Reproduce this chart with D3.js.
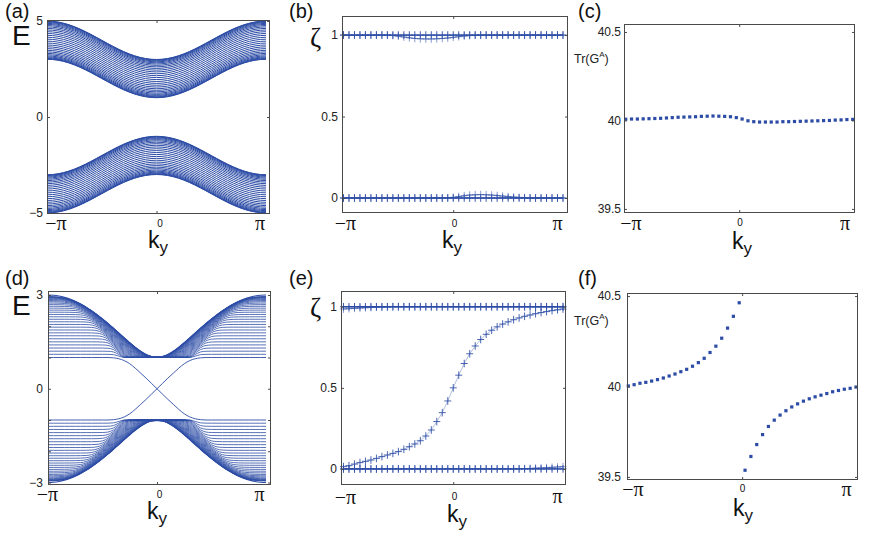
<!DOCTYPE html>
<html><head><meta charset="utf-8">
<script src="https://cdn.jsdelivr.net/npm/d3@7"></script>
<style>
html,body{margin:0;padding:0;background:#fff;}
svg{display:block;}
</style></head>
<body><svg id="fig" width="872" height="541"></svg>
<script>
const PI = Math.PI;
// sampling grids of k_y
const kyGrid41 = d3.range(41).map(j => -PI + j * PI / 20);
const kyGrid40 = d3.range(40).map(j => -PI + j * 2 * PI / 39);

// (a) inner edge of the upper band vs ky, and sub-band offsets above it
const edgeA = [3.000,2.988,2.951,2.891,2.809,2.707,2.588,2.454,2.309,2.156,2.000,1.844,1.691,1.546,1.412,1.293,1.191,1.109,1.049,1.012,1.000,1.012,1.049,1.109,1.191,1.293,1.412,1.546,1.691,1.844,2.000,2.156,2.309,2.454,2.588,2.707,2.809,2.891,2.951,2.988,3.000];
const offsetsA = [1.995,1.980,1.954,1.919,1.874,1.821,1.759,1.689,1.612,1.529,1.440,1.347,1.251,1.151,1.051,0.949,0.849,0.749,0.653,0.560,0.471,0.388,0.311,0.241,0.179,0.126,0.081,0.046,0.020,0.005];

// (d) outer band edge vs ky, sub-band levels at ky = ±π, how far below the
// outer edge each sub-band runs in the dense wedge, and the edge state
const outerD = [3.000,2.992,2.967,2.926,2.870,2.798,2.711,2.611,2.497,2.372,2.236,2.092,1.940,1.784,1.628,1.474,1.328,1.198,1.094,1.024,1.000,1.024,1.094,1.198,1.328,1.474,1.628,1.784,1.940,2.092,2.236,2.372,2.497,2.611,2.711,2.798,2.870,2.926,2.967,2.992,3.000];
const levelsD = [1.101,1.202,1.303,1.403,1.501,1.599,1.695,1.789,1.881,1.971,2.058,2.143,2.224,2.303,2.378,2.450,2.518,2.582,2.642,2.697,2.749,2.796,2.838,2.876,2.908,2.936,2.959,2.977,2.990,2.997];
const wedgeShiftD = [0.712,0.674,0.636,0.599,0.562,0.525,0.489,0.454,0.420,0.386,0.353,0.321,0.291,0.261,0.233,0.206,0.181,0.157,0.134,0.114,0.094,0.077,0.061,0.047,0.035,0.024,0.015,0.009,0.004,0.001];
const edgeStateD = [1,1,1,1,1,1,1,1,1,1,1,1,0.99,0.96,0.90,0.80,0.66,0.50,0.34,0.17,0,-0.17,-0.34,-0.50,-0.66,-0.80,-0.90,-0.96,-0.99,-1,-1,-1,-1,-1,-1,-1,-1,-1,-1,-1,-1];

// (b) zeta spectrum
const zetaB_one  = [1,1,1,1,1,1,1,1,1,1,1,1,1,1,1,1,1,1,1,1,1,1,1,1,1,1,1,1,1,1,1,1,1,1,1,1,1,1,1,1,1];
const zetaB_dip  = [1,1,1,1,1,1,1,1,1,0.997,0.993,0.988,0.983,0.979,0.977,0.976,0.976,0.977,0.979,0.982,0.986,0.990,0.994,0.997,0.999,1,1,1,1,1,1,1,1,1,1,1,1,1,1,1,1];
const zetaB_zero = [0,0,0,0,0,0,0,0,0,0,0,0,0,0,0,0,0,0,0,0,0,0,0,0,0,0,0,0,0,0,0,0,0,0,0,0,0,0,0,0,0];
const zetaB_bump = [0,0,0,0,0,0,0,0,0,0,0,0,0,0,0,0,0,0,0,0.001,0.004,0.009,0.014,0.018,0.020,0.021,0.020,0.018,0.015,0.012,0.009,0.006,0.004,0.002,0.001,0,0,0,0,0,0];

// (e) zeta spectrum with the spectral flow
const zetaE_one  = [1,1,1,1,1,1,1,1,1,1,1,1,1,1,1,1,1,1,1,1,1,1,1,1,1,1,1,1,1,1,1,1,1,1,1,1,1,1,1,1,1];
const zetaE_top  = [0.986,0.988,0.990,0.992,0.994,0.995,0.997,0.998,0.999,1,1,1,1,1,1,1,1,1,1,1,1,1,1,1,1,1,1,1,1,1,1,1,1,1,1,1,1,1,1,1,1];
const zetaE_flow = [0.014,0.020,0.030,0.039,0.047,0.055,0.065,0.076,0.086,0.096,0.107,0.121,0.137,0.154,0.174,0.203,0.240,0.292,0.347,0.419,0.500,0.578,0.650,0.710,0.758,0.798,0.830,0.855,0.876,0.893,0.907,0.920,0.931,0.941,0.949,0.957,0.964,0.970,0.976,0.981,0.986];
const zetaE_bot  = [0,0,0,0,0,0,0,0,0,0,0,0,0,0,0,0,0,0,0,0,0,0,0,0,0,0,0,0,0,0,0,0,0.001,0.002,0.003,0.005,0.006,0.008,0.010,0.012,0.014];
const zetaE_zero = [0,0,0,0,0,0,0,0,0,0,0,0,0,0,0,0,0,0,0,0,0,0,0,0,0,0,0,0,0,0,0,0,0,0,0,0,0,0,0,0,0];

// (c), (f) Tr(G^A)
const trC = [40.007,40.008,40.008,40.009,40.010,40.011,40.012,40.014,40.016,40.018,40.019,40.020,40.021,40.023,40.024,40.025,40.024,40.023,40.021,40.016,40.008,39.998,39.993,39.991,39.991,39.991,39.991,39.993,39.993,39.994,39.995,39.996,39.997,39.998,39.999,40.000,40.002,40.003,40.005,40.006];
const trF = [40.003,40.010,40.018,40.023,40.030,40.038,40.047,40.058,40.069,40.082,40.095,40.112,40.132,40.156,40.188,40.223,40.267,40.323,40.388,40.463,39.537,39.613,39.679,39.734,39.779,39.814,39.842,39.866,39.887,39.904,39.919,39.932,39.943,39.952,39.961,39.971,39.978,39.985,39.990,39.997];

// tick labels
const yTicksA = [-5,0,5],  yLabA = ["\u22125","0","5"];
const yTicksD = [-3,-2,-1,0,1,2,3], yLabD = ["\u22123","","","0","","","3"];
const yTicksZ = [0,0.5,1], yLabZ = ["0","0.5","1"];
const yTicksT = [39.5,40,40.5], yLabT = ["39.5","40","40.5"];
const xTickLabels = ["\u2212\u03c0","0","\u03c0"];

// ---------------- drawing ----------------
const svg = d3.select("#fig");
const BLUE = "#2c4ca6";
const AX = "#4a4a4a";
const SANS = "'Liberation Sans', Arial, sans-serif";
const SERIF = "'Liberation Serif', 'Times New Roman', serif";

const panels = {
  a:{box:[47,270,20,214], xlim:[-PI,3.256], ylim:[-5.05,5.05], yt:yTicksA, yl:yLabA, ypad:4,
     tag:[5,17.5], sym:"E", symPos:[12,45], xl:[56,160,260], xlY:[230,227,230], kPos:[148,248]},
  b:{box:[342,568,16,213], xlim:[-3.184,3.285], ylim:[-0.092,1.117], yt:yTicksZ, yl:yLabZ, ypad:4,
     tag:[289,17.5], sym:"zeta", symPos:[310,47], xl:[345.5,454.5,557.5], xlY:[230,227,230], kPos:[442,248]},
  c:{box:[624,855,24,213], xlim:[-3.189,3.205], ylim:[39.477,40.545], yt:yTicksT, yl:yLabT, ypad:3,
     tag:[578,17.5], sym:"tr", symPos:[574,63], xl:[631,740,845], xlY:[230,226,230], kPos:[732,249]},
  d:{box:[48,271,291,485], xlim:[-PI,3.286], ylim:[-3.08,3.128], yt:yTicksD, yl:yLabD, ypad:5,
     tag:[5,285], sym:"E", symPos:[12,315], xl:[47.5,159.5,259.5], xlY:[501,498,501], kPos:[147,519]},
  e:{box:[341,566,291,485], xlim:[-3.213,3.227], ylim:[-0.099,1.097], yt:yTicksZ, yl:yLabZ, ypad:4,
     tag:[289,285], sym:"zeta", symPos:[310,317], xl:[345.5,454.5,557.5], xlY:[504,500,503], kPos:[447,522]},
  f:{box:[627,858,293,480], xlim:[-3.177,3.197], ylim:[39.483,40.517], yt:yTicksT, yl:yLabT, ypad:6,
     tag:[578,285], sym:"tr", symPos:[574,325], xl:[633,742.5,846.5], xlY:[496,492,496], kPos:[733,516]}
};

function setup(name){
  const p = panels[name];
  const [x0,x1,y0,y1] = p.box;
  const x = d3.scaleLinear().domain(p.xlim).range([x0,x1]);
  const y = d3.scaleLinear().domain(p.ylim).range([y1,y0]);
  const g = svg.append("g").attr("class","panel-"+name);
  svg.append("clipPath").attr("id","clip-"+name).append("rect")
     .attr("x",x0).attr("y",y0).attr("width",x1-x0).attr("height",y1-y0);
  const plot = g.append("g").attr("clip-path",`url(#clip-${name})`);
  const free = g.append("g");
  return {p,x,y,g,plot,free};
}

function decorate(P, name){
  const {p,x,y,g} = P;
  const [x0,x1,y0,y1] = p.box;
  const axL = g.append("g").attr("transform",`translate(${x0},0)`)
    .call(d3.axisLeft(y).tickValues(p.yt).tickSize(-3).tickPadding(p.ypad)
      .tickFormat((d,i)=>p.yl[i]));
  const axR = g.append("g").attr("transform",`translate(${x1},0)`)
    .call(d3.axisRight(y).tickValues(p.yt).tickSize(-3).tickFormat(""));
  const axT = g.append("g").attr("transform",`translate(0,${y0})`)
    .call(d3.axisTop(x).tickValues([0]).tickSize(-3).tickFormat(""));
  const axB = g.append("g").attr("transform",`translate(0,${y1})`)
    .call(d3.axisBottom(x).tickValues([0]).tickSize(-3).tickFormat(""));
  [axL,axR,axT,axB].forEach(a=>{
    a.select(".domain").remove();
    a.selectAll(".tick line").attr("stroke",AX);
    a.selectAll(".tick text").attr("font-family",SANS).attr("font-size",12).attr("fill","#222");
  });
  g.append("rect").attr("x",x0+0.5).attr("y",y0+0.5).attr("width",x1-x0-1).attr("height",y1-y0-1)
    .attr("fill","none").attr("stroke",AX).attr("stroke-width",1);

  g.append("text").attr("x",p.tag[0]).attr("y",p.tag[1]).attr("font-family",SANS)
    .attr("font-size",20).attr("fill","#111").text(`(${name})`);
  if(p.sym==="E"){
    g.append("text").attr("x",p.symPos[0]).attr("y",p.symPos[1]).attr("font-family",SANS)
      .attr("font-size",28).attr("fill","#111").text("E");
  } else if(p.sym==="zeta"){
    g.append("text").attr("x",p.symPos[0]).attr("y",p.symPos[1]).attr("font-family",SERIF)
      .attr("font-size",27).attr("fill","#111").text("\u03b6");
  } else {
    const t = g.append("text").attr("x",p.symPos[0]).attr("y",p.symPos[1]).attr("font-family",SANS)
      .attr("font-size",12.5).attr("fill","#222");
    t.append("tspan").text("Tr(G");
    t.append("tspan").attr("font-size",8).attr("dy",-6).text("A");
    t.append("tspan").attr("dy",6).text(")");
  }
  xTickLabels.forEach((s,i)=>{
    const small = (s==="0");
    g.append("text").attr("x",p.xl[i]).attr("y",p.xlY[i]).attr("text-anchor","middle")
      .attr("font-family", small?SANS:SERIF).attr("font-size", small?10:20).attr("fill","#111").text(s);
  });
  const k = g.append("text").attr("x",p.kPos[0]).attr("y",p.kPos[1]).attr("font-family",SANS)
     .attr("font-size",23).attr("fill","#111");
  k.append("tspan").text("k");
  k.append("tspan").attr("font-size",17).attr("dy",5).text("y");
}

// ---- (a) ----
{
  const P = setup("a");
  const line = d3.line().x((d,i)=>P.x(kyGrid41[i])).y(d=>P.y(d)).curve(d3.curveMonotoneX);
  offsetsA.forEach(o=>{
    const up = edgeA.map(e=>e+o), dn = edgeA.map(e=>-(e+o));
    [up,dn].forEach(s=>P.plot.append("path").attr("d",line(s)).attr("fill","none")
       .attr("stroke",BLUE).attr("stroke-width",1.0));
  });
  decorate(P,"a");
}
// ---- (d) ----
{
  const P = setup("d");
  const line = d3.line().x((d,i)=>P.x(kyGrid41[i])).y(d=>P.y(d)).curve(d3.curveMonotoneX);
  const sMin = 0.07, sMax = 0.03; // corner softness where a sub-band meets the wedge / the gap edge
  const softMin = (a,b)=> -sMin*Math.log(Math.exp(-a/sMin)+Math.exp(-b/sMin));
  const softMax = (a,b)=>  sMax*Math.log(Math.exp(a/sMax)+Math.exp(b/sMax));
  levelsD.forEach((c,n)=>{
    const up = outerD.map(o=>softMax(1, softMin(c, o - wedgeShiftD[n])));
    const dn = up.map(v=>-v);
    [up,dn].forEach(sr=>P.plot.append("path").attr("d",line(sr)).attr("fill","none")
       .attr("stroke",BLUE).attr("stroke-width",0.8));
  });
  [outerD, outerD.map(v=>-v)].forEach(sr=>P.plot.append("path").attr("d",line(sr)).attr("fill","none")
       .attr("stroke",BLUE).attr("stroke-width",1.2));
  const es2 = edgeStateD.map(v=>-v);
  [edgeStateD, es2].forEach(sr=>P.plot.append("path").attr("d",line(sr)).attr("fill","none")
       .attr("stroke",BLUE).attr("stroke-width",0.9));
  decorate(P,"d");
}
// ---- (b), (e) ----
function crosses(P, series, opts){
  const line = d3.line().x((d,i)=>P.x(kyGrid41[i])).y(d=>P.y(d));
  P.free.append("path").attr("d",line(series)).attr("fill","none").attr("stroke",BLUE)
     .attr("stroke-width",opts.lw).attr("stroke-opacity",opts.lo);
  P.free.selectAll(null).data(series).join("path")
     .attr("transform",(d,i)=>`translate(${P.x(kyGrid41[i])},${P.y(d)})`)
     .attr("d","M-3.5,0H3.5M0,-3.8V3.8").attr("fill","none").attr("stroke",BLUE)
     .attr("stroke-width",1).attr("stroke-opacity",opts.mo);
}
{
  const P = setup("b");
  crosses(P, zetaB_dip, {lw:1, lo:0.6, mo:0.55});
  crosses(P, zetaB_bump, {lw:1, lo:0.6, mo:0.55});
  crosses(P, zetaB_one, {lw:1.3, lo:1, mo:0.9});
  crosses(P, zetaB_zero, {lw:1.3, lo:1, mo:0.9});
  decorate(P,"b");
}
{
  const P = setup("e");
  crosses(P, zetaE_top, {lw:1, lo:0.6, mo:0.55});
  crosses(P, zetaE_bot, {lw:1, lo:0.6, mo:0.55});
  crosses(P, zetaE_flow, {lw:0.8, lo:0.45, mo:0.85});
  crosses(P, zetaE_one, {lw:1.3, lo:1, mo:0.9});
  crosses(P, zetaE_zero, {lw:1.3, lo:1, mo:0.9});
  decorate(P,"e");
}
// ---- (c), (f) ----
function dots(P, series){
  P.free.selectAll(null).data(series).join("rect")
    .attr("x",(d,i)=>P.x(kyGrid40[i])-1.6).attr("y",d=>P.y(d)-1.6)
    .attr("width",3.2).attr("height",3.2).attr("fill",BLUE);
}
{
  const P = setup("c"); dots(P, trC); decorate(P,"c");
}
{
  const P = setup("f"); dots(P, trF); decorate(P,"f");
}
</script>
</body></html>
